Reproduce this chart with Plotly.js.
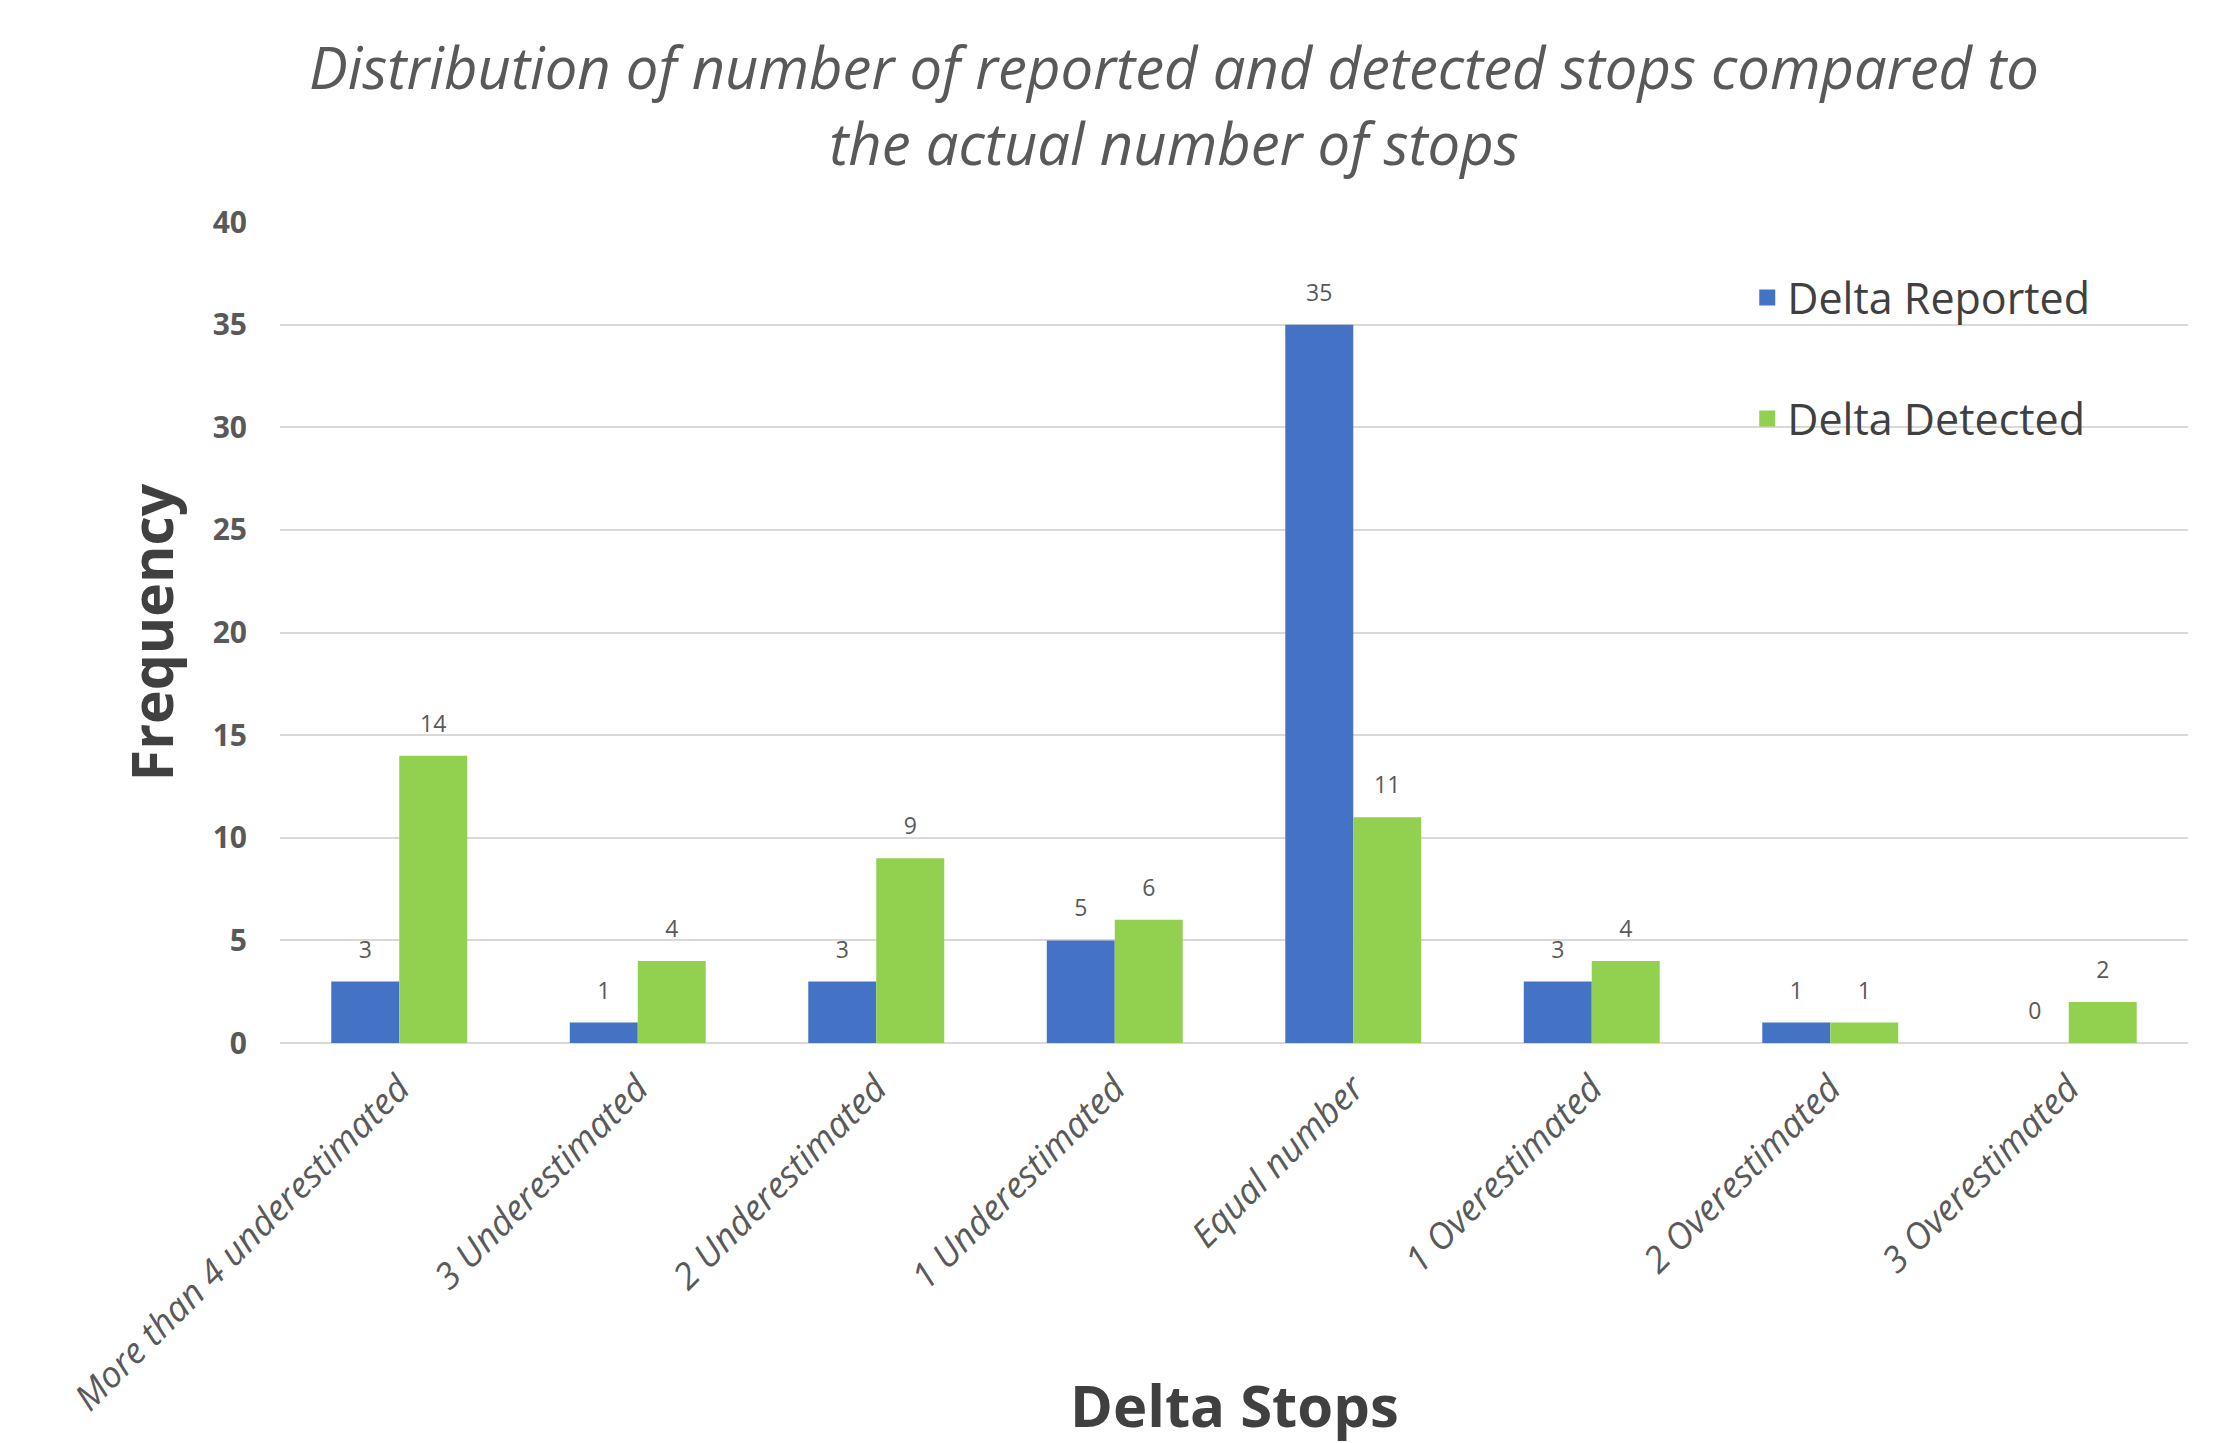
<!DOCTYPE html>
<html>
<head>
<meta charset="utf-8">
<script src="https://cdn.plot.ly/plotly-3.0.1.min.js"></script>
<style>html,body{margin:0;padding:0;background:#fff;}#chart{width:2215px;height:1443px;}</style>
</head>
<body>
<div id="chart"></div>
<script>
const categories = [
  "More than 4 underestimated",
  "3 Underestimated",
  "2 Underestimated",
  "1 Underestimated",
  "Equal number",
  "1 Overestimated",
  "2 Overestimated",
  "3 Overestimated"
];
const deltaReported = [3, 1, 3, 5, 35, 3, 1, 0];
const deltaDetected = [14, 4, 9, 6, 11, 4, 1, 2];
const yTicks = [0, 5, 10, 15, 20, 25, 30, 35, 40];
const seriesNames = ["Delta Reported", "Delta Detected"];
const colors = ["#4472C4", "#92D050"];

const labelFont = {family: "Open Sans", size: 13, color: "#595959"};

function barTrace(vals, i) {
  return {
    type: "bar",
    x: categories,
    y: vals,
    name: seriesNames[i],
    marker: {color: colors[i]},
    text: vals.map(String),
    texttemplate: "<span style=\"font-size:23px\">%{y}</span><br> ",
    textposition: "outside",
    textfont: labelFont,
    constraintext: "none",
    cliponaxis: false,
    showlegend: false,
    hoverinfo: "x+y+name"
  };
}
function legendTrace(i) {
  return {
    type: "scatter",
    mode: "markers",
    x: [null],
    y: [null],
    name: seriesNames[i],
    legendgroup: "g" + i,
    marker: {symbol: "square", size: 16, color: colors[i]},
    hoverinfo: "skip"
  };
}

const data = [barTrace(deltaReported, 0), barTrace(deltaDetected, 1), legendTrace(0), legendTrace(1)];

const layout = {
  width: 2215,
  height: 1443,
  paper_bgcolor: "#ffffff",
  plot_bgcolor: "#ffffff",
  margin: {l: 280, r: 27, t: 222, b: 400},
  barmode: "group",
  bargap: 0.43,
  bargroupgap: 0,
  title: {
    text: "Distribution of number of reported and detected stops compared to<br>the actual number of stops",
    font: {family: "Open Sans", size: 58, color: "#595959", style: "italic"},
    xref: "container", x: 0.53, xanchor: "center",
    yref: "container", y: 0.938, yanchor: "top"
  },
  xaxis: {
    type: "category",
    tickangle: -45,
    tickfont: {family: "Open Sans", size: 36, color: "#595959", style: "italic"},
    ticklabelstandoff: 16,
    showgrid: false,
    showline: false,
    ticks: "",
    automargin: false
  },
  yaxis: {
    range: [0, 40],
    tickvals: yTicks,
    ticktext: yTicks.map(String),
    tickfont: {family: "Open Sans", size: 30, color: "#595959", weight: "bold"},
    ticklabelstandoff: 32,
    showgrid: true,
    gridcolor: "#D9D9D9",
    gridwidth: 1.5,
    zeroline: true,
    zerolinecolor: "#D9D9D9",
    zerolinewidth: 1.5,
    showline: false,
    ticks: "",
    automargin: false,
    title: {
      text: "Frequency",
      font: {family: "Open Sans", size: 57, color: "#404040", weight: "bold"},
      standoff: 20
    }
  },
  legend: {
    x: 0.769, xanchor: "left",
    y: 0.95, yanchor: "top",
    traceorder: "grouped",
    tracegroupgap: 62,
    font: {family: "Open Sans", size: 43, color: "#404040"},
    bgcolor: "rgba(0,0,0,0)",
    itemwidth: 30
  },
  annotations: [{
    text: "Delta Stops",
    xref: "paper", yref: "paper",
    x: 0.5, y: -0.44,
    xanchor: "center", yanchor: "middle",
    showarrow: false,
    font: {family: "Open Sans", size: 58, color: "#404040", weight: "bold"}
  }],
  showlegend: true
};

Plotly.newPlot("chart", data, layout, {displayModeBar: false, responsive: false});
</script>
</body>
</html>
